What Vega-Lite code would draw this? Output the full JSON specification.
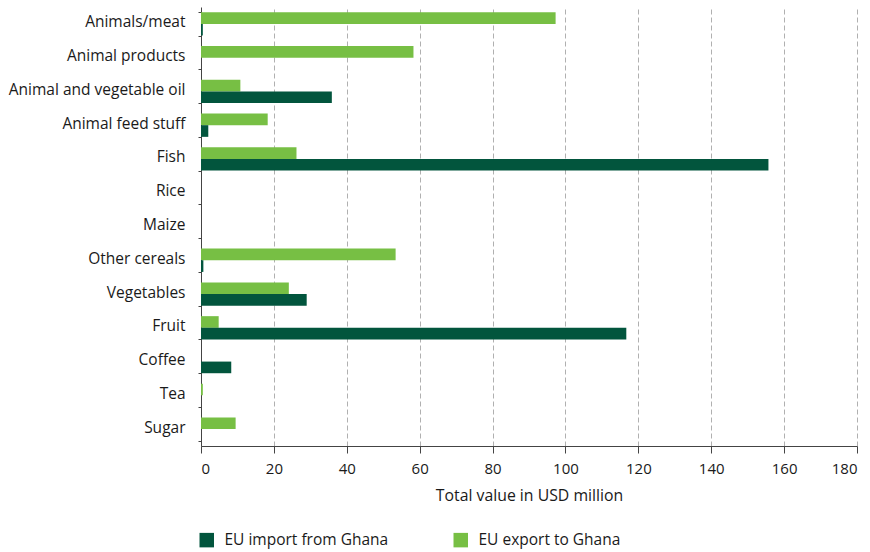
{
  "$schema": "https://vega.github.io/schema/vega-lite/v6.json",
  "autosize": "none",
  "width": 656,
  "height": 439,
  "padding": {"left": 201, "top": 7, "right": 13, "bottom": 106},
  "background": "white",
  "config": {
    "view": {"stroke": null},
    "font": "Open Sans",
    "axis": {"labelFont": "Open Sans", "titleFont": "Open Sans", "labelColor": "#1a1a1a", "titleColor": "#1a1a1a"},
    "legend": {"labelFont": "Open Sans"}
  },
  "data": {
    "values": [
      {"category": "Animals/meat", "series": "EU export to Ghana", "value": 97.3},
      {"category": "Animals/meat", "series": "EU import from Ghana", "value": 0.5},
      {"category": "Animal products", "series": "EU export to Ghana", "value": 58.3},
      {"category": "Animal products", "series": "EU import from Ghana", "value": 0},
      {"category": "Animal and vegetable oil", "series": "EU export to Ghana", "value": 10.8},
      {"category": "Animal and vegetable oil", "series": "EU import from Ghana", "value": 35.9},
      {"category": "Animal feed stuff", "series": "EU export to Ghana", "value": 18.3},
      {"category": "Animal feed stuff", "series": "EU import from Ghana", "value": 2.0},
      {"category": "Fish", "series": "EU export to Ghana", "value": 26.2},
      {"category": "Fish", "series": "EU import from Ghana", "value": 155.7},
      {"category": "Rice", "series": "EU export to Ghana", "value": 0},
      {"category": "Rice", "series": "EU import from Ghana", "value": 0},
      {"category": "Maize", "series": "EU export to Ghana", "value": 0},
      {"category": "Maize", "series": "EU import from Ghana", "value": 0},
      {"category": "Other cereals", "series": "EU export to Ghana", "value": 53.4},
      {"category": "Other cereals", "series": "EU import from Ghana", "value": 0.65},
      {"category": "Vegetables", "series": "EU export to Ghana", "value": 24.1},
      {"category": "Vegetables", "series": "EU import from Ghana", "value": 29.0},
      {"category": "Fruit", "series": "EU export to Ghana", "value": 4.85},
      {"category": "Fruit", "series": "EU import from Ghana", "value": 116.7},
      {"category": "Coffee", "series": "EU export to Ghana", "value": 0},
      {"category": "Coffee", "series": "EU import from Ghana", "value": 8.3},
      {"category": "Tea", "series": "EU export to Ghana", "value": 0.5},
      {"category": "Tea", "series": "EU import from Ghana", "value": 0},
      {"category": "Sugar", "series": "EU export to Ghana", "value": 9.5},
      {"category": "Sugar", "series": "EU import from Ghana", "value": 0}
    ]
  },
  "mark": {"type": "bar"},
  "encoding": {
    "y": {
      "field": "category",
      "type": "nominal",
      "sort": null,
      "scale": {"paddingInner": 0.31, "paddingOuter": 0.155},
      "axis": {
        "title": null,
        "tickBand": "extent",
        "tickSize": 3,
        "tickColor": "#444",
        "domainColor": "#444",
        "labelFontSize": 15.5,
        "labelPadding": 13,
        "labelOffset": -2,
        "labelLimit": 250,
        "grid": false
      }
    },
    "yOffset": {
      "field": "series",
      "type": "nominal",
      "sort": ["EU export to Ghana", "EU import from Ghana"]
    },
    "x": {
      "field": "value",
      "type": "quantitative",
      "scale": {"domain": [0, 180], "nice": false},
      "axis": {
        "title": "Total value in USD million",
        "titleFontSize": 15.8,
        "titleFontWeight": "normal",
        "titlePadding": 12,
        "values": [0, 20, 40, 60, 80, 100, 120, 140, 160, 180],
        "labelFontSize": 15,
        "labelPadding": 8,
        "tickSize": 7,
        "tickColor": "#444",
        "domainColor": "#444",
        "grid": true,
        "gridColor": "#b0b0b0",
        "gridDash": [5, 3],
        "gridWidth": 1
      }
    },
    "color": {
      "field": "series",
      "type": "nominal",
      "scale": {
        "domain": ["EU import from Ghana", "EU export to Ghana"],
        "range": ["#02553d", "#77bf44"]
      },
      "legend": {
        "title": null,
        "orient": "none",
        "direction": "horizontal",
        "legendX": -2,
        "legendY": 525,
        "padding": 0,
        "symbolType": "square",
        "symbolSize": 210,
        "symbolStrokeWidth": 0,
        "symbolOpacity": 1,
        "labelFontSize": 15.5,
        "labelColor": "#1a1a1a",
        "labelOffset": 10,
        "labelLimit": 300,
        "columnPadding": 64
      }
    }
  }
}
